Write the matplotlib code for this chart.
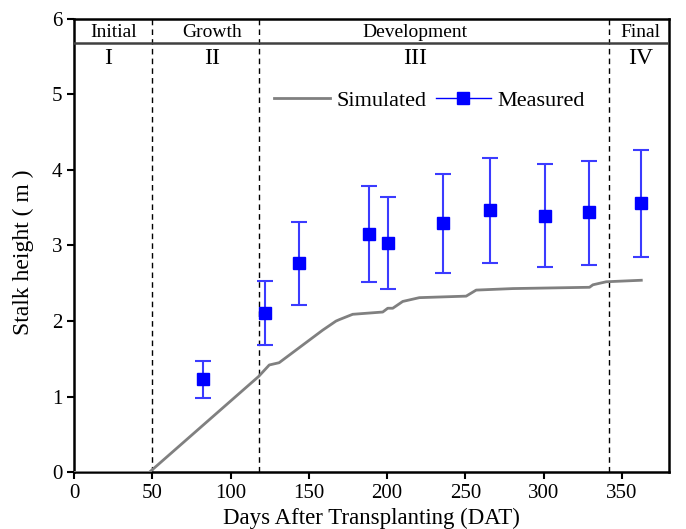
import matplotlib
matplotlib.use("Agg")
import matplotlib.pyplot as plt
from matplotlib.lines import Line2D

plt.rcParams['font.family'] = ['Liberation Serif', 'DejaVu Serif']

# Simulated stalk height
sim_days = [0, 48, 118, 124.7, 131, 158.8, 167.3, 169.5, 178, 197.2, 200.4, 203.6, 210,
            220.6, 250.5, 256.9, 280.3, 329.3, 331.5, 340, 362.4]
sim_height = [0, 0, 1.27, 1.42, 1.45, 1.88, 2.0, 2.02, 2.09, 2.12, 2.17, 2.17, 2.26,
              2.31, 2.33, 2.41, 2.43, 2.447, 2.48, 2.52, 2.54]

# Measured stalk height with error bars
meas_days = [82.5, 121.9, 143.9, 188.7, 200.8, 235.7, 265.8, 301, 328.9, 362]
meas_height = [1.23, 2.11, 2.765, 3.156, 3.033, 3.30, 3.466, 3.394, 3.44, 3.558]
meas_top = [1.47, 2.53, 3.31, 3.787, 3.64, 3.95, 4.157, 4.078, 4.12, 4.263]
meas_bottom = [0.98, 1.69, 2.21, 2.52, 2.43, 2.64, 2.77, 2.716, 2.746, 2.844]

stage_bounds = [50, 118, 342]
stage_names = ['Initial', 'Growth', 'Development', 'Final']
stage_roman = ['I', 'II', 'III', 'IV']
stage_name_x = [25, 88, 218, 362]
stage_roman_x = [22, 88, 218, 362]

xticks = [0, 50, 100, 150, 200, 250, 300, 350]
yticks = [0, 1, 2, 3, 4, 5, 6]

fig = plt.figure(figsize=(6.86, 5.29), dpi=100)
ax = fig.add_axes([0.108, 0.107, 0.867, 0.858])

ax.plot(sim_days, sim_height, color='#808080', lw=2, zorder=3)

yerr_low = [h - b for h, b in zip(meas_height, meas_bottom)]
yerr_high = [t - h for h, t in zip(meas_height, meas_top)]
ax.errorbar(meas_days, meas_height, yerr=[yerr_low, yerr_high], fmt='s', color='#0000ff',
            ecolor='#3b3bff', elinewidth=1.5, capsize=5.5, capthick=1.5, markersize=8, zorder=4)

for b in stage_bounds:
    ax.axvline(b, color='black', ls=(0, (4, 3)), lw=1.0, zorder=2)

ax.axhline(5.67, color='#404040', lw=1.8, zorder=5)

for x, n in zip(stage_name_x, stage_names):
    ax.text(x, 5.81, n, ha='center', va='center', fontsize=14)
for x, r in zip(stage_roman_x, stage_roman):
    ax.text(x, 5.47, r, ha='center', va='center', fontsize=17)

ax.set_xlim(0, 380)
ax.set_ylim(0, 6)
ax.set_xticks(xticks)
ax.set_yticks(yticks)
ax.tick_params(direction='out', length=5, width=1.5, labelsize=15)
for s in ax.spines.values():
    s.set_linewidth(1.8)

ax.set_xlabel('Days After Transplanting (DAT)', fontsize=16.5, labelpad=3)
ax.set_ylabel('Stalk height ( m )', fontsize=17)
ax.yaxis.set_label_coords(-0.068, 0.485)

handles = [Line2D([], [], color='#808080', lw=2),
           Line2D([], [], color='#0000ff', lw=1, marker='s', markersize=8)]
ax.legend(handles, ['Simulated', 'Measured'], loc='center', bbox_to_anchor=(0.598, 0.819),
          ncol=2, frameon=False, fontsize=16, handlelength=2.5, columnspacing=0.4,
          handletextpad=0.3, borderaxespad=0)

fig.savefig('out.png', dpi=100)
